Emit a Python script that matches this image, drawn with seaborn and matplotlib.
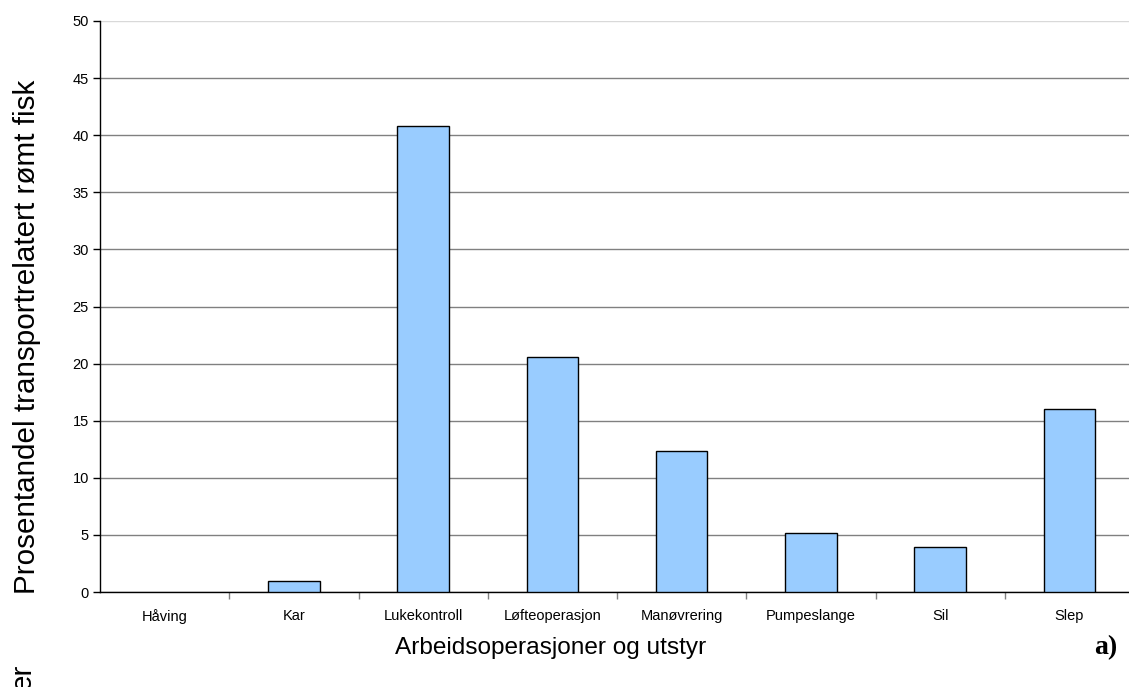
import matplotlib
matplotlib.use("Agg")
import matplotlib.pyplot as plt
import seaborn as sns
import pandas as pd
from matplotlib.ticker import FixedLocator

categories = ["Håving", "Kar", "Lukekontroll", "Løfteoperasjon", "Manøvrering",
              "Pumpeslange", "Sil", "Slep"]
values = [0.0, 0.95, 40.8, 20.6, 12.35, 5.15, 3.95, 16.0]
y_ticks = [0, 5, 10, 15, 20, 25, 30, 35, 40, 45, 50]

sns.set_theme(style="white")
plt.rcParams['font.family'] = ['Liberation Sans', 'DejaVu Sans']
plt.rcParams['text.color'] = 'black'
plt.rcParams['xtick.color'] = 'black'
plt.rcParams['ytick.color'] = 'black'
plt.rcParams['xtick.labelcolor'] = 'black'
plt.rcParams['ytick.labelcolor'] = 'black'

W, H = 1129, 687
fig = plt.figure(figsize=(W / 100, H / 100), dpi=100)
ax = fig.add_axes([100 / W, 1 - 592 / H, 1034 / W, 571 / H])

df = pd.DataFrame({"cat": categories, "val": values})
sns.barplot(data=df, x="cat", y="val", order=categories, color="#99CCFF",
            saturation=1, edgecolor="black", linewidth=1, width=0.4, ax=ax, zorder=3)
for p in ax.patches:
    if p.get_height() == 0:
        p.set_visible(False)

ax.set_xlim(-0.5, len(categories) - 0.5)
ax.set_ylim(0, 50)
ax.set_yticks(y_ticks)
ax.yaxis.grid(True, color="#808080", linewidth=1)
ax.set_axisbelow(True)
ax.get_ygridlines()[-1].set_color("#d9d9d9")
for s in ["top", "right"]:
    ax.spines[s].set_visible(False)
for s in ["left", "bottom"]:
    ax.spines[s].set_color("black")
    ax.spines[s].set_linewidth(1)

ax.tick_params(axis="y", which="major", left=True, length=5, width=1, color="black",
               labelsize=10.5, pad=3, labelcolor="black")
ax.tick_params(axis="x", which="major", bottom=False, length=0, labelsize=10.5, pad=12,
               labelcolor="black")
ax.xaxis.set_minor_locator(FixedLocator([i + 0.5 for i in range(len(categories) - 1)]))
ax.tick_params(axis="x", which="minor", bottom=True, length=5, width=1, color="#808080",
               direction="out")
ax.set_xlabel("")
ax.set_ylabel("")

fig.text(27 / W, 1 - 337 / H, "Prosentandel transportrelatert rømt fisk", rotation=90,
         ha="center", va="center", fontsize=21.3, color="black")
fig.text(551 / W, 1 - 648 / H, "Arbeidsoperasjoner og utstyr", ha="center", va="center",
         fontsize=17.6, color="black")
fig.text(1106 / W, 1 - 648 / H, "a)", ha="center", va="center", fontsize=20,
         fontweight="bold", family=["Liberation Serif", "DejaVu Serif"], color="black")
fig.text(23 / W, 1 - 664 / H, "er", rotation=90, ha="center", va="top", fontsize=21.3,
         color="black")

fig.savefig("out.png", dpi=100, facecolor="white")
